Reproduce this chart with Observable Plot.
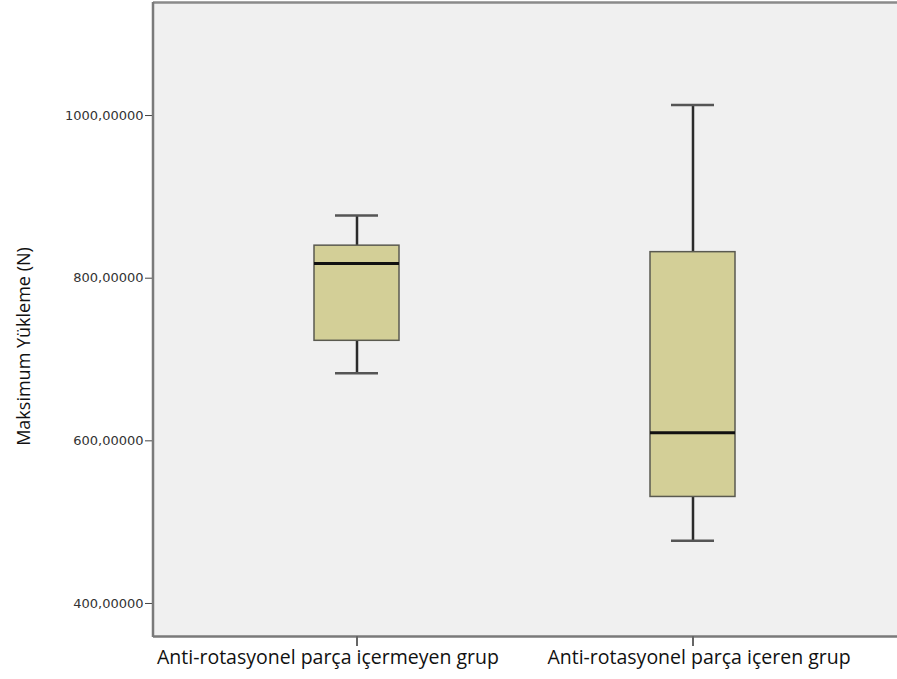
<!DOCTYPE html>
<html>
<head>
<meta charset="utf-8">
<script src="https://cdn.jsdelivr.net/npm/d3@7"></script>
<script src="https://cdn.jsdelivr.net/npm/@observablehq/plot@0.6"></script>
<style>
  body { margin: 0; background: #fff; }
</style>
</head>
<body>
<div id="chart"></div>
<script>
const groups = ["Anti-rotasyonel parça içermeyen grup", "Anti-rotasyonel parça içeren grup"];
const whiskerLow = [683, 477];
const q1 = [723, 531];
const median = [818, 610];
const q3 = [840, 832];
const whiskerHigh = [877, 1013];
const yTicks = [400, 600, 800, 1000];

const data = groups.map((g, i) => ({
  group: g, lo: whiskerLow[i], q1: q1[i], med: median[i], q3: q3[i], hi: whiskerHigh[i]
}));

const fmt = v => v.toFixed(5).replace(".", ",");
const xFont = "Open Sans, Noto Sans, sans-serif";

const chart = Plot.plot({
  width: 897,
  height: 679,
  marginLeft: 153,
  marginRight: 0,
  marginTop: 2,
  marginBottom: 43,
  style: { background: "#fff", fontFamily: "Liberation Sans, Arial, sans-serif" },
  x: { type: "band", domain: groups, paddingInner: 0.747, paddingOuter: 0.48, label: null },
  y: { domain: [359.4, 1139], label: null },
  marks: [
    Plot.frame({ fill: "#f0f0f0", stroke: null }),
    Plot.ruleY([359.4], { stroke: "#7a7a7a", strokeWidth: 2.5 }),
    Plot.ruleY([1139], { stroke: "#8a8a8a", strokeWidth: 2.5 }),
    Plot.ruleX(data, { x: "group", y1: "lo", y2: "q1", stroke: "#2b2b2b", strokeWidth: 2.5 }),
    Plot.ruleX(data, { x: "group", y1: "q3", y2: "hi", stroke: "#2b2b2b", strokeWidth: 2.5 }),
    Plot.tickY(data, { x: "group", y: "lo", stroke: "#555", strokeWidth: 2.5, insetLeft: 21, insetRight: 21 }),
    Plot.tickY(data, { x: "group", y: "hi", stroke: "#555", strokeWidth: 2.5, insetLeft: 21, insetRight: 21 }),
    Plot.barY(data, { x: "group", y1: "q1", y2: "q3", fill: "#d3cf97", stroke: "#5a5a50", strokeWidth: 1.5 }),
    Plot.tickY(data, { x: "group", y: "med", stroke: "#111", strokeWidth: 3 }),
    Plot.axisY({ ticks: yTicks, tickFormat: fmt, tickSize: 8, tickPadding: 2, fontSize: 13, fontFamily: "DejaVu Sans, sans-serif", color: "#333", label: null, stroke: "#444" }),
    Plot.axisX({ ticks: [groups[0]], tickSize: 10, tickPadding: 4, fontSize: 19.5, label: null, fontFamily: xFont, fill: "#111", stroke: "#666", strokeWidth: 2, text: null }),
    Plot.axisX({ ticks: [groups[1]], tickSize: 10, tickPadding: 4, fontSize: 19.5, label: null, fontFamily: xFont, fill: "#111", stroke: "#666", strokeWidth: 2, text: null }),
    Plot.axisX({ ticks: [groups[0]], tickSize: 0, tickPadding: 14, fontSize: 19.5, label: null, fontFamily: xFont, fill: "#111", dx: -29 }),
    Plot.axisX({ ticks: [groups[1]], tickSize: 0, tickPadding: 14, fontSize: 19.5, label: null, fontFamily: xFont, fill: "#111", dx: 6 }),
    Plot.text(["Maksimum Yükleme (N)"], { frameAnchor: "left", textAnchor: "middle", dx: -129, dy: 27, rotate: -90, fontSize: 18, fill: "#111", fontFamily: xFont })
  ]
});

document.getElementById("chart").appendChild(chart);
const svg = d3.select(chart);
svg.append("line").attr("x1", 153).attr("x2", 153).attr("y1", 2).attr("y2", 637)
  .attr("stroke", "#7a7a7a").attr("stroke-width", 2.5);
</script>
</body>
</html>
